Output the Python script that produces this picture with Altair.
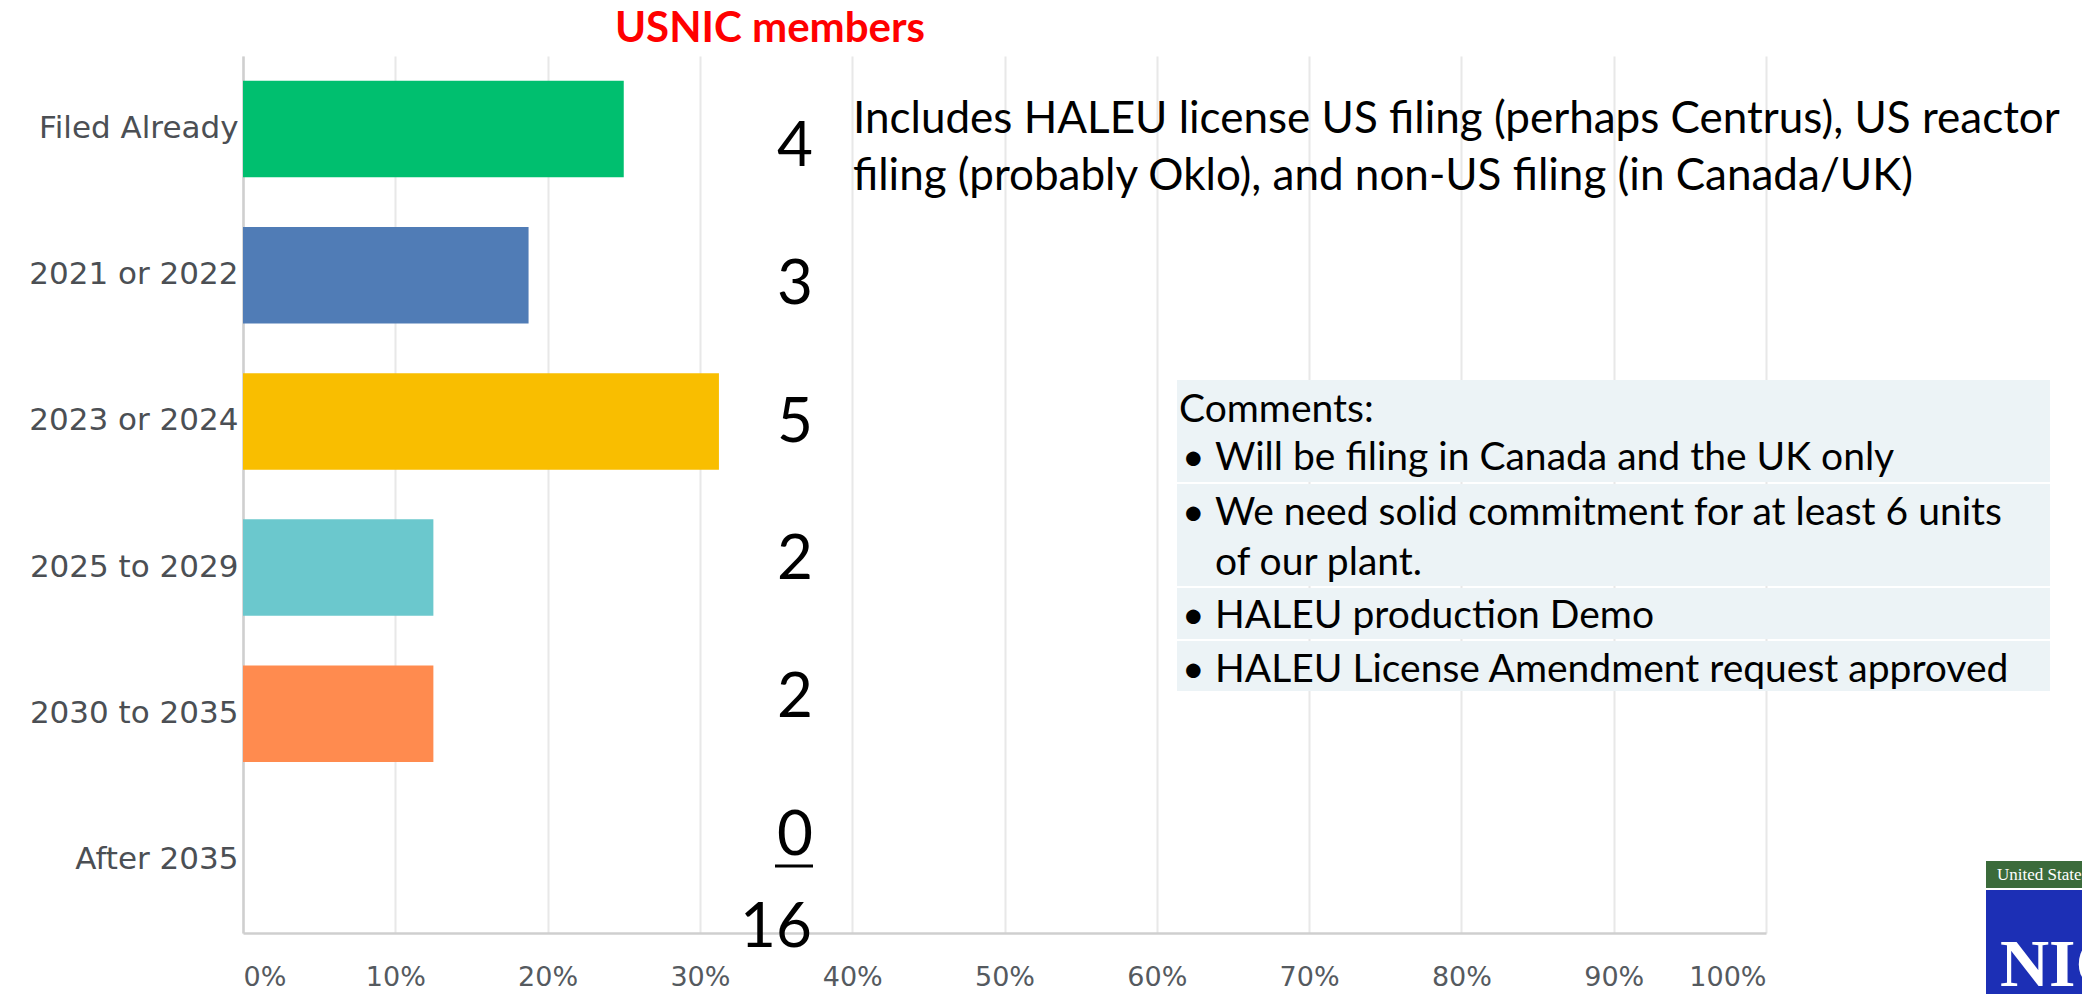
import altair as alt
import pandas as pd

# ---------------- data ----------------
categories = ["Filed Already", "2021 or 2022", "2023 or 2024",
              "2025 to 2029", "2030 to 2035", "After 2035"]
counts = [4, 3, 5, 2, 2, 0]
bar_colors = ["#00BF6F", "#507CB6", "#F9BE00", "#6BC8CD", "#FF8B4F", "#A7B2BA"]
x_tick_values = [0.0, 0.1, 0.2, 0.3, 0.4, 0.5, 0.6, 0.7, 0.8, 0.9, 1.0]

title_text = "USNIC members"
note_lines = [
    "Includes HALEU license US filing (perhaps Centrus), US reactor",
    "filing (probably Oklo), and non-US filing (in Canada/UK)",
]
comment_header = "Comments:"
comment_lines = [
    "Will be filing in Canada and the UK only",
    "We need solid commitment for at least 6 units",
    "of our plant.",
    "HALEU production Demo",
    "HALEU License Amendment request approved",
]
comment_bullets = [True, True, False, True, True]

df = pd.DataFrame({"category": categories, "count": counts})
one = pd.DataFrame({"k": [0]})

TEXT_FONT = "Lato"
AXIS_FONT = "DejaVu Sans"

# ---------------- bars ----------------
base = (alt.Chart(df)
        .transform_joinaggregate(total="sum(count)")
        .transform_calculate(pct="datum.count / datum.total"))

bars = base.mark_bar().encode(
    y=alt.Y("category:N", sort=categories,
            scale=alt.Scale(paddingInner=0.34, paddingOuter=0.17),
            axis=alt.Axis(title=None, labelFont=AXIS_FONT, labelFontSize=31,
                          labelColor="#4b4f54", labelPadding=5, ticks=False,
                          tickSize=0, domainColor="#cfcfcf", domainWidth=2.5,
                          labelLimit=400, grid=False)),
    x=alt.X("pct:Q", scale=alt.Scale(domain=[0, 1], nice=False),
            axis=alt.Axis(title=None, values=x_tick_values, format=".0%",
                          labelFlush=True, grid=True, gridColor="#e8e8e8",
                          gridWidth=2, ticks=False, tickSize=0,
                          domainColor="#cfcfcf", domainWidth=2.5,
                          labelFont=AXIS_FONT, labelFontSize=27,
                          labelColor="#555a5f", labelBaseline="alphabetic",
                          labelPadding=52)),
    color=alt.Color("category:N", scale=alt.Scale(domain=categories, range=bar_colors),
                    legend=None),
)

# ---------------- count column ----------------
nums = alt.Chart(df).mark_text(font=TEXT_FONT, fontSize=62, align="right",
                               baseline="alphabetic", color="black").encode(
    y=alt.Y("category:N", sort=categories,
            scale=alt.Scale(type="point", padding=0.682, align=0.585), axis=None),
    x=alt.value(570),
    text="count:Q",
)

total = (alt.Chart(df).transform_aggregate(total="sum(count)")
         .mark_text(font=TEXT_FONT, fontSize=62, align="right",
                    baseline="alphabetic", color="black")
         .encode(x=alt.value(569), y=alt.value(891), text="total:Q"))

underline = alt.Chart(one).mark_rule(color="black", strokeWidth=3).encode(
    x=alt.value(532), x2=alt.value(570), y=alt.value(810))


def label(txt, x, y, size, font=TEXT_FONT, color="black", weight="normal",
          align="left"):
    return alt.Chart(one).mark_text(
        text=txt, font=font, fontSize=size, color=color, fontWeight=weight,
        align=align, baseline="alphabetic").encode(x=alt.value(x), y=alt.value(y))


def box(x, x2, y, y2, color):
    return alt.Chart(one).mark_rect(color=color).encode(
        x=alt.value(x), x2=alt.value(x2), y=alt.value(y), y2=alt.value(y2))


layers = [bars, nums, total, underline]

# title
layers.append(label(title_text, 527, -14, 42, color="#FF0000", weight="bold",
                    align="center"))
# note
layers.append(label(note_lines[0], 610, 77, 44))
layers.append(label(note_lines[1], 610, 134, 44))

# comments box
BOX_C = "#ECF3F6"
layers += [box(934, 1807, 324, 426, BOX_C), box(934, 1807, 428, 530, BOX_C),
           box(934, 1807, 532, 583, BOX_C), box(934, 1807, 585, 635, BOX_C)]
layers.append(label(comment_header, 936, 366, 39))
line_y = [414, 469, 519, 572, 626]
for txt, bullet, yy in zip(comment_lines, comment_bullets, line_y):
    if bullet:
        layers.append(label("\u2022", 939, yy, 39))
    layers.append(label(txt, 972, yy, 39))

# logo (bottom right, cropped by the page edge as in the reference)
layers += [box(1743, 1900, 805, 832, "#3b6b3b"), box(1743, 1900, 834, 990, "#1c2fb5")]
layers.append(label("United States", 1754, 824, 17, font="Liberation Serif",
                    color="white"))
layers.append(label("NIC", 1757, 930, 68, font="Liberation Serif", color="white",
                    weight="bold"))

chart = (alt.layer(*layers)
         .resolve_scale(y="independent")
         .properties(width=1523, height=877,
                     padding={"left": 235, "top": 48, "right": 316, "bottom": 61},
                     autosize=alt.AutoSizeParams(type="none"))
         .configure_view(stroke=None))

chart.save("out.html", embed_options={"renderer": "svg", "actions": False})
